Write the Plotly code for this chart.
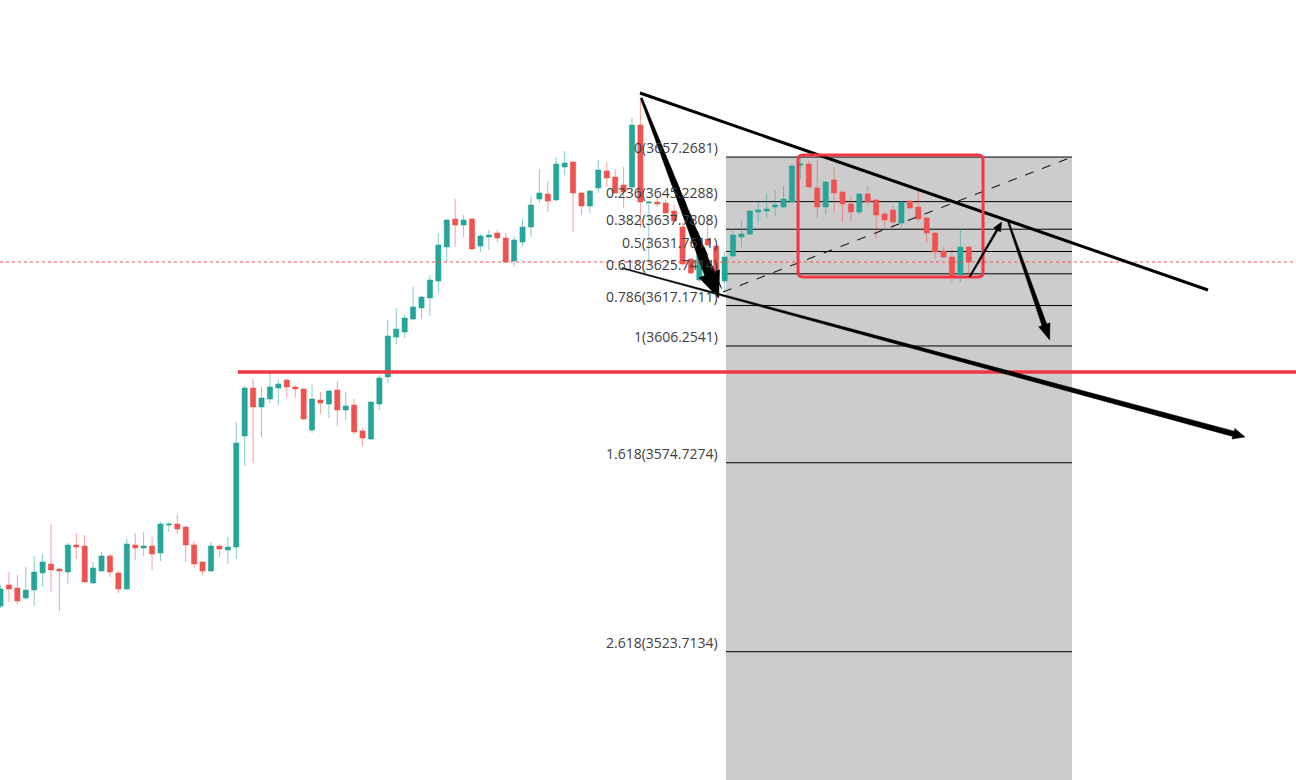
import math
import plotly.graph_objects as go

# ---------------- data ----------------
idx = list(range(116))
opens = [3536.05, 3541.72, 3540.91, 3538.21, 3540.37, 3544.96, 3547.39, 3546.04, 3545.23, 3552.52,
         3552.25, 3542.26, 3545.50, 3549.55, 3544.96, 3540.64, 3552.52, 3551.71, 3552.25, 3550.36,
         3557.92, 3558.19, 3557.38, 3552.52, 3547.93, 3545.50, 3552.25, 3551.17, 3551.98, 3581.95,
         3594.91, 3589.78, 3591.94, 3594.91, 3597.07, 3595.18, 3594.64, 3583.57, 3591.67, 3590.59,
         3594.37, 3588.97, 3590.32, 3583.30, 3581.14, 3590.59, 3597.88, 3608.68, 3610.03, 3613.54,
         3616.51, 3619.21, 3623.80, 3632.98, 3640.54, 3638.92, 3640.54, 3633.25, 3635.68, 3636.76,
         3635.41, 3629.20, 3634.33, 3638.38, 3645.94, 3647.29, 3645.67, 3654.58, 3655.93, 3647.56,
         3644.05, 3648.91, 3653.50, 3651.88, 3649.72, 3649.18, 3665.92, 3644.86, 3645.13, 3644.86,
         3642.70, 3638.38, 3629.74, 3624.07, 3635.14, 3633.25, 3623.80, 3630.55, 3635.68, 3636.49,
         3642.43, 3642.70, 3643.78, 3643.78, 3645.13, 3655.12, 3655.39, 3648.91, 3643.78, 3651.07,
         3647.83, 3644.59, 3642.43, 3647.29, 3645.67, 3641.89, 3642.97, 3639.46, 3645.40, 3643.78,
         3640.81, 3636.76, 3631.90, 3630.28, 3625.42, 3632.98]
highs = [3541.72, 3545.23, 3544.42, 3546.58, 3549.55, 3550.09, 3558.19, 3546.31, 3553.06, 3555.76,
         3555.22, 3547.93, 3550.63, 3550.09, 3545.50, 3554.14, 3555.76, 3556.03, 3554.68, 3558.73,
         3558.73, 3560.89, 3557.65, 3553.60, 3548.20, 3553.33, 3552.52, 3554.68, 3585.73, 3595.45,
         3597.34, 3595.18, 3599.77, 3597.07, 3597.34, 3595.72, 3594.91, 3596.00, 3593.83, 3594.37,
         3596.80, 3593.83, 3591.94, 3584.11, 3591.40, 3598.42, 3613.27, 3616.51, 3614.62, 3622.18,
         3619.75, 3625.42, 3636.76, 3640.54, 3645.94, 3641.62, 3640.81, 3636.49, 3637.57, 3637.57,
         3636.76, 3635.95, 3640.54, 3646.75, 3654.04, 3650.80, 3657.28, 3658.90, 3656.20, 3647.83,
         3648.37, 3656.47, 3655.93, 3654.04, 3654.58, 3667.81, 3672.67, 3645.40, 3646.21, 3645.67,
         3644.32, 3639.46, 3630.01, 3635.95, 3640.81, 3633.52, 3631.63, 3637.84, 3640.00, 3642.97,
         3645.13, 3647.56, 3648.37, 3649.45, 3655.66, 3657.01, 3656.47, 3656.47, 3650.80, 3654.58,
         3648.10, 3646.48, 3647.56, 3649.45, 3645.94, 3642.43, 3644.05, 3645.40, 3645.67, 3648.91,
         3641.08, 3637.03, 3632.98, 3632.98, 3637.84, 3633.25]
lows = [3535.51, 3537.13, 3536.32, 3537.94, 3536.05, 3541.18, 3539.83, 3534.70, 3541.99, 3548.74,
        3542.26, 3541.99, 3545.23, 3543.88, 3539.56, 3540.37, 3548.47, 3549.55, 3545.77, 3548.20,
        3556.03, 3555.49, 3547.93, 3546.31, 3544.42, 3545.23, 3549.28, 3547.39, 3548.74, 3573.85,
        3574.66, 3581.68, 3590.86, 3590.32, 3592.21, 3592.21, 3586.27, 3582.76, 3587.89, 3586.81,
        3584.65, 3586.27, 3582.49, 3579.25, 3580.87, 3588.97, 3596.26, 3606.79, 3608.41, 3613.27,
        3613.54, 3614.35, 3620.56, 3628.93, 3632.98, 3635.68, 3632.17, 3631.63, 3632.17, 3634.06,
        3628.66, 3627.85, 3633.25, 3635.68, 3644.86, 3642.43, 3645.40, 3652.42, 3637.03, 3641.62,
        3642.16, 3647.56, 3649.18, 3647.29, 3643.51, 3648.37, 3638.11, 3629.47, 3643.78, 3641.89,
        3639.73, 3628.12, 3625.69, 3623.53, 3632.98, 3623.53, 3620.56, 3630.28, 3632.98, 3636.22,
        3639.46, 3640.81, 3641.35, 3643.51, 3644.86, 3651.34, 3648.91, 3640.81, 3641.89, 3642.16,
        3639.73, 3639.73, 3641.62, 3644.32, 3635.41, 3638.38, 3637.84, 3638.38, 3643.24, 3640.00,
        3634.06, 3629.74, 3630.01, 3623.53, 3623.53, 3625.15]
closes = [3540.64, 3540.64, 3537.40, 3540.37, 3545.23, 3547.93, 3545.77, 3545.50, 3552.52, 3551.98,
          3542.53, 3546.31, 3549.55, 3545.23, 3540.64, 3552.79, 3551.71, 3552.25, 3550.09, 3558.19,
          3558.19, 3556.84, 3552.52, 3547.39, 3545.50, 3552.25, 3551.44, 3551.98, 3580.06, 3594.91,
          3589.78, 3592.21, 3595.18, 3596.00, 3595.18, 3594.64, 3586.54, 3591.94, 3590.86, 3594.10,
          3588.97, 3590.05, 3583.03, 3581.41, 3591.13, 3597.61, 3608.95, 3610.84, 3613.81, 3616.78,
          3619.48, 3624.07, 3633.52, 3640.27, 3638.92, 3640.27, 3632.44, 3635.95, 3636.22, 3635.41,
          3628.93, 3634.87, 3638.38, 3644.32, 3647.56, 3645.40, 3655.39, 3655.66, 3647.56, 3644.05,
          3648.10, 3653.77, 3651.61, 3647.56, 3647.83, 3665.92, 3645.13, 3645.13, 3644.59, 3642.16,
          3640.00, 3628.39, 3625.96, 3635.41, 3633.52, 3624.07, 3630.28, 3636.22, 3636.49, 3642.70,
          3642.97, 3643.24, 3644.32, 3645.94, 3654.85, 3655.39, 3649.18, 3643.78, 3650.53, 3647.56,
          3644.59, 3642.43, 3647.29, 3645.13, 3641.62, 3640.27, 3639.73, 3645.13, 3643.51, 3640.54,
          3636.76, 3631.63, 3630.28, 3625.15, 3632.98, 3628.93]

# Fibonacci retracement
fib_high = 3657.2681
fib_low = 3606.2541
fib_levels = [0, 0.236, 0.382, 0.5, 0.618, 0.786, 1, 1.618, 2.618, 3.618, 4.236]
fib_x = [86.16, 127.26]          # bar-index span of the fib drawing
support_price = 3599.23
support_start = 28.2

# ---------------- layout geometry ----------------
W, H = 1296, 780
X_RANGE = [-0.06, 153.86]
Y_RANGE = [3489.07, 3699.67]


def to_px(x, y):
    return ((x - X_RANGE[0]) / (X_RANGE[1] - X_RANGE[0]) * W,
            (Y_RANGE[1] - y) / (Y_RANGE[1] - Y_RANGE[0]) * H)


def to_data(px, py):
    return (X_RANGE[0] + px / W * (X_RANGE[1] - X_RANGE[0]),
            Y_RANGE[1] - py / H * (Y_RANGE[1] - Y_RANGE[0]))


def path_from_px(pts, close=True):
    d = []
    for k, (px, py) in enumerate(pts):
        x, y = to_data(px, py)
        d.append(("M" if k == 0 else "L") + f"{x:.4f},{y:.4f}")
    return " ".join(d) + (" Z" if close else "")


def arrow_path(x0, y0, x1, y1, w0, w1, head_len, head_w):
    a, b = to_px(x0, y0)
    c, d = to_px(x1, y1)
    L = math.hypot(c - a, d - b)
    ux, uy = (c - a) / L, (d - b) / L
    nx, ny = -uy, ux
    bx, by = c - ux * head_len, d - uy * head_len
    pts = [(a + nx * w0 / 2, b + ny * w0 / 2),
           (bx + nx * w1 / 2, by + ny * w1 / 2),
           (bx + nx * head_w / 2, by + ny * head_w / 2),
           (c, d),
           (bx - nx * head_w / 2, by - ny * head_w / 2),
           (bx - nx * w1 / 2, by - ny * w1 / 2),
           (a - nx * w0 / 2, b - ny * w0 / 2)]
    return path_from_px(pts)


def rounded_rect(x0, y0, x1, y1, r):
    a, b = to_px(x0, y0)
    c, d = to_px(x1, y1)
    l, rr = min(a, c), max(a, c)
    t, bt = min(b, d), max(b, d)
    segs = [("M", l + r, t), ("L", rr - r, t), ("Q", rr, t, rr, t + r), ("L", rr, bt - r),
            ("Q", rr, bt, rr - r, bt), ("L", l + r, bt), ("Q", l, bt, l, bt - r),
            ("L", l, t + r), ("Q", l, t, l + r, t)]
    out = []
    for s in segs:
        if s[0] == "Q":
            x1d, y1d = to_data(s[1], s[2])
            x2d, y2d = to_data(s[3], s[4])
            out.append(f"Q{x1d:.4f},{y1d:.4f} {x2d:.4f},{y2d:.4f}")
        else:
            xd, yd = to_data(s[1], s[2])
            out.append(f"{s[0]}{xd:.4f},{yd:.4f}")
    return " ".join(out) + " Z"


fig = go.Figure()
fig.add_trace(go.Candlestick(
    x=idx, open=opens, high=highs, low=lows, close=closes,
    increasing=dict(line=dict(color="rgba(38,166,154,0.55)", width=1), fillcolor="#26a69a"),
    decreasing=dict(line=dict(color="rgba(239,83,80,0.55)", width=1), fillcolor="#ef5350"),
    whiskerwidth=0, showlegend=False, hoverinfo="skip"))

shapes = []
annotations = []

# fib background
fib_prices = [fib_high - l * (fib_high - fib_low) for l in fib_levels]
shapes.append(dict(type="rect", xref="x", yref="y", x0=fib_x[0], x1=fib_x[1],
                   y0=fib_prices[0], y1=fib_prices[-1], fillcolor="#cccccc",
                   line=dict(width=0), layer="below"))
for l, p in zip(fib_levels, fib_prices):
    shapes.append(dict(type="line", xref="x", yref="y", x0=fib_x[0], x1=fib_x[1], y0=p, y1=p,
                       line=dict(color="#000000", width=1), layer="below"))
    if Y_RANGE[0] < p < Y_RANGE[1]:
        annotations.append(dict(x=fib_x[0] - 0.7, y=p, xref="x", yref="y", text=f"{l:g}({p:.4f})",
                                showarrow=False, xanchor="right", yanchor="bottom", yshift=-2,
                                font=dict(family="Open Sans", size=14, color="#404040")))

# dashed fib connectors
shapes.append(dict(type="line", xref="x", yref="y", x0=76.07, y0=3673.21, x1=85.81, y1=3620.83,
                   line=dict(color="#000000", width=1, dash="dash")))
shapes.append(dict(type="line", xref="x", yref="y", x0=85.81, y0=3620.83, x1=127.26, y1=3657.28,
                   line=dict(color="#000000", width=1, dash="dash")))

# current price dotted line
shapes.append(dict(type="line", xref="paper", yref="y", x0=0, x1=1, y0=closes[-1], y1=closes[-1],
                   line=dict(color="#ef5350", width=1, dash="dot")))

# support line
shapes.append(dict(type="line", xref="x", yref="y", x0=support_start, x1=X_RANGE[1],
                   y0=support_price, y1=support_price, line=dict(color="#f23645", width=3.5)))

# resistance trend line
shapes.append(dict(type="line", xref="x", yref="y", x0=75.95, y0=3674.56, x1=143.41, y1=3621.37,
                   line=dict(color="#000000", width=3)))

# red rounded box
shapes.append(dict(type="path", xref="x", yref="y", path=rounded_rect(94.72, 3657.82, 116.69, 3624.88, 5),
                   line=dict(color="#f23645", width=3), fillcolor="rgba(0,0,0,0)"))

# arrows
arrows = [
    (76.1, 3673.2, 85.3, 3619.2, 2, 10, 26, 22),
    (73.8, 3627.3, 147.8, 3581.7, 1, 5.5, 12, 11),
    (115.1, 3624.9, 118.9, 3639.7, 1.5, 2, 9, 8),
    (119.7, 3639.7, 124.6, 3607.9, 1.5, 5, 16, 12),
]
for a in arrows:
    shapes.append(dict(type="path", xref="x", yref="y", path=arrow_path(*a),
                       fillcolor="#000000", line=dict(color="#000000", width=0.5)))

fig.update_layout(
    width=W, height=H, margin=dict(l=0, r=0, t=0, b=0),
    paper_bgcolor="#ffffff", plot_bgcolor="#ffffff",
    boxgap=0.12,
    xaxis=dict(range=X_RANGE, visible=False, rangeslider=dict(visible=False), fixedrange=True),
    yaxis=dict(range=Y_RANGE, visible=False, fixedrange=True),
    shapes=shapes, annotations=annotations, showlegend=False,
)
fig.write_html("out.html", config={"displayModeBar": False},
               post_script="document.body.style.margin='0';document.body.style.overflow='hidden';")
